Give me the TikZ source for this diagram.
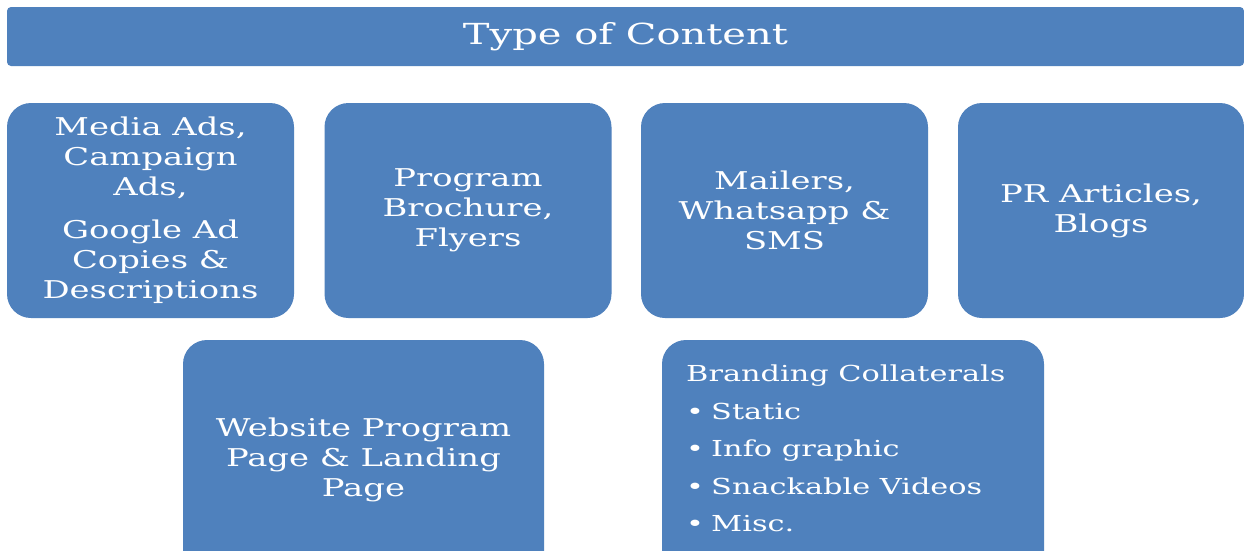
\documentclass[tikz,border=0pt]{standalone}
\usepackage{fontspec}
\setmainfont{DejaVu Serif}[FakeStretch=1.38]
\definecolor{boxblue}{HTML}{4F81BD}
\begin{document}
\begin{tikzpicture}[x=1pt,y=-1pt,
  box/.style={fill=boxblue, draw=none, rounded corners=24pt, text=white, align=center, inner sep=0pt},
  txt/.style={font=\fontsize{24.5}{30}\selectfont},
  bul/.style={font=\fontsize{22}{37}\selectfont, text=white, anchor=base west, inner sep=0pt}]
\useasboundingbox[fill=white] (0,0) rectangle (1244,550);
\node[box, rounded corners=4pt, minimum width=1237pt, minimum height=59pt, font=\fontsize{29}{34}\selectfont] (title) at (625.5,36.5) {Type of Content};
\node[box, txt, minimum width=287pt, minimum height=215pt] (b1) at (150.5,210.5) {Media Ads,\\Campaign\\Ads,\\[13pt]Google Ad\\Copies \&\\Descriptions};
\node[box, txt, minimum width=287pt, minimum height=215pt] (b2) at (468,210.5) {Program\\Brochure,\\Flyers};
\node[box, txt, minimum width=287pt, minimum height=215pt] (b3) at (784.5,210.5) {Mailers,\\Whatsapp \&\\SMS};
\node[box, txt, minimum width=286pt, minimum height=215pt] (b4) at (1101,210.5) {PR Articles,\\Blogs};
\node[box, txt, minimum width=361pt, minimum height=240pt] (b5) at (363.5,460) {Website Program\\Page \& Landing\\Page};
\node[box, minimum width=382pt, minimum height=240pt] (b6) at (853,460) {};
\node[bul] (t0) at (686,381.5) {Branding Collaterals};
\node[bul] (p1) at (686,419) {•};
\node[bul] (t1) at (711,419) {Static};
\node[bul] (p2) at (686,456.5) {•};
\node[bul] (t2) at (711,456.5) {Info graphic};
\node[bul] (p3) at (686,494) {•};
\node[bul] (t3) at (711,494) {Snackable Videos};
\node[bul] (p4) at (686,531.5) {•};
\node[bul] (t4) at (711,531.5) {Misc.};
\end{tikzpicture}
\end{document}
